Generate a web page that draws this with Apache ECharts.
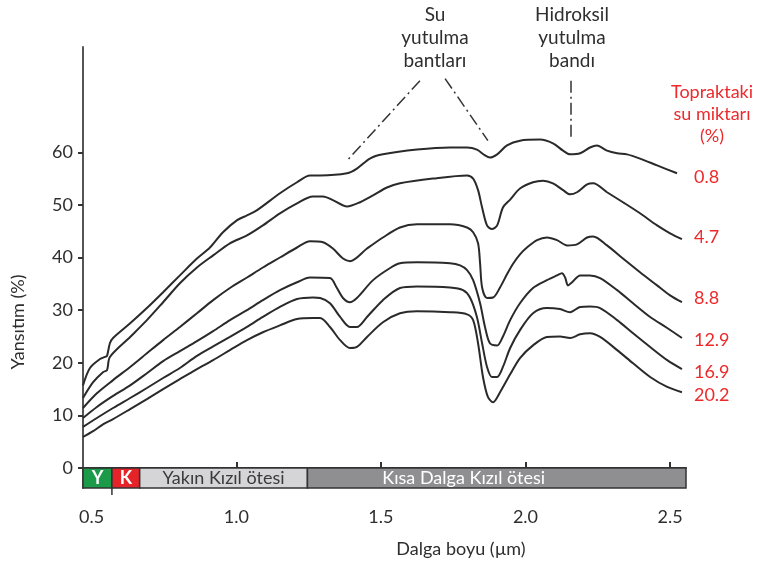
<!DOCTYPE html>
<html><head><meta charset="utf-8">
<script src="https://cdn.jsdelivr.net/npm/echarts@6/dist/echarts.min.js"></script>
<style>html,body{margin:0;padding:0;background:#fff}#c{width:762px;height:570px}</style>
</head><body><div id="c"></div>
<script>
// soil moisture (%) of each curve
const moistureLabels = ['0.8', '4.7', '8.8', '12.9', '16.9', '20.2'];

// [wavelength µm, reflectance %]
const soil08 = [[0.470,15.7],[0.494,19.0],[0.529,20.7],[0.546,21.1],[0.553,21.3],[0.563,23.7],[0.574,24.7],[0.633,27.5],[0.691,30.4],[0.747,33.4],[0.805,36.6],[0.864,39.8],[0.909,41.9],[0.954,44.8],[1.003,47.1],[1.037,48.0],[1.072,49.0],[1.151,52.2],[1.210,54.3],[1.255,55.6],[1.290,55.6],[1.383,56.0],[1.417,56.9],[1.462,58.8],[1.507,59.6],[1.625,60.5],[1.739,60.9],[1.798,60.9],[1.832,60.5],[1.860,59.4],[1.877,59.0],[1.902,59.6],[1.936,61.3],[1.981,62.2],[2.050,62.4],[2.095,61.7],[2.130,60.3],[2.154,59.6],[2.189,59.8],[2.223,60.9],[2.247,61.3],[2.282,60.3],[2.317,59.8],[2.351,59.6],[2.396,58.8],[2.455,57.5],[2.524,56.0]];
const soil47 = [[0.470,13.3],[0.505,16.3],[0.539,18.2],[0.553,18.6],[0.563,21.1],[0.633,24.9],[0.691,28.1],[0.747,31.5],[0.805,35.1],[0.864,38.1],[0.920,40.4],[0.978,42.7],[1.037,44.2],[1.092,46.1],[1.151,48.4],[1.210,50.3],[1.265,51.6],[1.300,51.6],[1.334,50.9],[1.383,49.7],[1.428,50.5],[1.473,51.8],[1.521,53.3],[1.566,54.1],[1.680,55.0],[1.798,55.6],[1.819,55.0],[1.836,52.8],[1.850,49.5],[1.867,46.1],[1.884,45.4],[1.902,46.1],[1.922,49.5],[1.947,51.0],[1.981,53.1],[2.026,54.3],[2.061,54.6],[2.095,54.1],[2.130,52.8],[2.154,52.0],[2.178,52.4],[2.213,53.9],[2.234,54.1],[2.282,52.4],[2.337,50.5],[2.396,48.4],[2.455,46.1],[2.500,44.6],[2.541,43.5]];
const soil88 = [[0.470,11.4],[0.518,14.2],[0.574,16.7],[0.633,19.2],[0.691,21.8],[0.747,24.3],[0.805,26.8],[0.864,29.4],[0.920,31.9],[0.978,34.2],[1.037,36.2],[1.092,38.1],[1.151,40.0],[1.210,41.9],[1.255,43.1],[1.300,42.9],[1.334,41.7],[1.369,39.8],[1.393,39.3],[1.452,41.7],[1.507,43.8],[1.566,45.7],[1.625,46.3],[1.739,46.3],[1.798,45.7],[1.819,44.8],[1.836,42.7],[1.843,38.9],[1.850,34.3],[1.867,32.3],[1.888,32.4],[1.912,34.3],[1.936,36.8],[1.957,38.8],[1.981,40.6],[2.005,41.9],[2.040,43.3],[2.074,43.8],[2.109,43.3],[2.144,42.3],[2.178,42.5],[2.213,43.8],[2.234,44.0],[2.282,42.3],[2.337,39.8],[2.396,37.2],[2.455,34.7],[2.500,32.8],[2.541,31.5]];
const soil129 = [[0.470,9.5],[0.518,11.6],[0.574,13.7],[0.633,15.7],[0.691,18.0],[0.747,20.3],[0.805,22.2],[0.864,24.1],[0.920,26.0],[0.978,28.1],[1.037,30.0],[1.092,31.9],[1.151,33.8],[1.210,35.3],[1.255,36.2],[1.324,36.1],[1.348,34.2],[1.369,32.3],[1.393,31.5],[1.417,32.3],[1.473,35.7],[1.532,38.0],[1.566,38.9],[1.625,39.1],[1.739,38.9],[1.774,38.5],[1.798,37.6],[1.819,35.7],[1.843,31.3],[1.860,26.8],[1.877,23.7],[1.902,23.3],[1.922,25.0],[1.947,28.1],[1.981,31.3],[2.026,34.2],[2.074,35.7],[2.109,36.6],[2.126,37.0],[2.137,36.2],[2.147,34.7],[2.161,35.3],[2.189,36.6],[2.223,36.6],[2.258,36.1],[2.317,33.8],[2.372,31.3],[2.431,28.7],[2.490,26.6],[2.541,24.7]];
const soil169 = [[0.470,7.8],[0.518,9.5],[0.574,11.4],[0.633,13.3],[0.691,15.2],[0.747,17.1],[0.805,19.0],[0.864,21.3],[0.920,23.1],[0.978,24.9],[1.037,26.8],[1.092,28.7],[1.151,30.6],[1.210,32.1],[1.265,32.4],[1.290,32.3],[1.324,31.3],[1.359,28.7],[1.393,26.8],[1.417,26.8],[1.452,28.7],[1.507,31.9],[1.566,34.2],[1.625,34.5],[1.739,34.3],[1.784,33.8],[1.808,32.4],[1.832,28.7],[1.850,23.7],[1.867,19.2],[1.884,17.3],[1.902,17.3],[1.922,19.2],[1.947,22.8],[1.981,26.2],[2.026,29.4],[2.074,30.4],[2.119,30.2],[2.154,29.6],[2.189,30.6],[2.223,30.7],[2.258,30.4],[2.317,28.1],[2.372,25.6],[2.431,23.0],[2.490,20.5],[2.541,18.8]];
const soil202 = [[0.470,5.9],[0.505,7.0],[0.539,8.3],[0.574,9.3],[0.633,11.2],[0.691,13.1],[0.747,15.0],[0.805,16.9],[0.864,18.8],[0.920,20.5],[0.978,22.4],[1.037,24.3],[1.092,25.8],[1.151,27.1],[1.210,28.3],[1.265,28.5],[1.290,28.5],[1.324,26.8],[1.359,24.3],[1.393,22.8],[1.417,23.0],[1.452,24.9],[1.507,27.7],[1.566,29.4],[1.625,29.8],[1.739,29.6],[1.798,29.2],[1.819,28.1],[1.836,23.7],[1.853,17.3],[1.870,13.5],[1.888,12.5],[1.912,14.4],[1.947,17.8],[1.981,20.9],[2.026,23.3],[2.074,24.9],[2.119,25.0],[2.154,24.7],[2.189,25.4],[2.223,25.6],[2.258,24.9],[2.317,22.4],[2.372,19.9],[2.431,17.3],[2.490,15.4],[2.541,14.4]];

// axis ticks
const xTickLabels = [0.5, 1.0, 1.5, 2.0, 2.5];
const xTickMarks = [1.0, 1.5, 2.0, 2.5];
const yTickLabels = [0, 10, 20, 30, 40, 50, 60];

// spectral regions [from, to] µm
const bandNames = ['Y', 'K', 'Yakın Kızıl ötesi', 'Kısa Dalga Kızıl ötesi'];
const bandFrom = [0.47, 0.57, 0.666, 1.246];
const bandTo = [0.57, 0.666, 1.246, 2.555];

// absorption band pointers [[x1,y1],[x2,y2]]
const waterPointers = [[[1.635, 73.6], [1.383, 58.4]], [[1.722, 74.0], [1.870, 62.2]]];
const hydroxylPointer = [[2.157, 73.6], [2.157, 62.2]];

const FONT = 'Lato, "Open Sans", sans-serif';
const RED = '#ec2a2c';
const INK = '#2e2e2e';
const bandFill = ['#1b9a4a', '#e52328', '#d5d5d7', '#8f8f91'];
const bandText = ['#fff', '#fff', '#3a3a3a', '#fff'];
const bandOffset = [[0, 0], [0, 0], [0, 0], [-33, 0]];
const endOffsets = [[9, 4], [4, -2], [4, -4], [4, 2], [4, 3], [4, 3]];

const chart = echarts.init(document.getElementById('c'), null, { renderer: 'canvas' });

const curves = [soil08, soil47, soil88, soil129, soil169, soil202];
const Y_MIN = -3.8;

const series = curves.map((d, i) => ({
  name: moistureLabels[i],
  type: 'line',
  data: d,
  smooth: 0.3,
  symbol: 'none',
  z: 3,
  lineStyle: { color: '#2a2a2a', width: 2 },
  endLabel: {
    show: true,
    formatter: moistureLabels[i],
    color: RED,
    fontSize: 18,
    fontFamily: FONT,
    offset: endOffsets[i]
  }
}));

series[0].markArea = {
  silent: true,
  z: 1,
  itemStyle: { borderColor: '#333', borderWidth: 1.5, opacity: 1 },
  label: { show: true, position: 'inside', fontSize: 18, fontFamily: FONT },
  data: bandNames.map((n, i) => [
    { name: n, xAxis: bandFrom[i], yAxis: Y_MIN,
      itemStyle: { color: bandFill[i] },
      label: { color: bandText[i], offset: bandOffset[i], fontWeight: i < 2 ? 'bold' : 'normal' } },
    { xAxis: bandTo[i], yAxis: 0 }
  ])
};

series[0].markLine = {
  silent: true,
  symbol: ['none', 'none'],
  animation: false,
  label: { show: false },
  lineStyle: { type: [12, 4, 2, 4], color: '#333', width: 1.5 },
  data: waterPointers.concat([hydroxylPointer]).map(p => [{ coord: p[0] }, { coord: p[1] }])
};

function texts() {
  return [
    { type: 'text', x: 435, y: 3, style: { text: 'Su\nyutulma\nbantları', align: 'center', verticalAlign: 'top', lineHeight: 23, fill: INK, font: '19px ' + FONT } },
    { type: 'text', x: 572, y: 3, style: { text: 'Hidroksil\nyutulma\nbandı', align: 'center', verticalAlign: 'top', lineHeight: 23, fill: INK, font: '19px ' + FONT } },
    { type: 'text', x: 712, y: 81, style: { text: 'Topraktaki\nsu miktarı\n(%)', align: 'center', verticalAlign: 'top', lineHeight: 22, fill: RED, font: '18px ' + FONT } },
    { type: 'text', x: 18, y: 322, rotation: Math.PI / 2, style: { text: 'Yansıtım (%)', align: 'center', verticalAlign: 'middle', fill: INK, font: '18px ' + FONT } },
    { type: 'text', x: 461, y: 549, style: { text: 'Dalga boyu (µm)', align: 'center', verticalAlign: 'middle', fill: INK, font: '18px ' + FONT } }
  ];
}

chart.setOption({
  animation: false,
  backgroundColor: '#fff',
  grid: { left: 83, right: 76, top: 47, bottom: 82, containLabel: false, outerBoundsMode: 'none' },
  xAxis: {
    type: 'value', min: 0.47, max: 2.555,
    axisLine: { onZero: true, lineStyle: { color: '#333', width: 2 } },
    axisTick: { show: true, inside: true, length: 6, customValues: xTickMarks, lineStyle: { color: '#333', width: 2 } },
    axisLabel: { customValues: xTickLabels, formatter: v => v.toFixed(1), margin: 20, fontSize: 18, color: INK, fontFamily: FONT },
    splitLine: { show: false }
  },
  yAxis: {
    type: 'value', min: Y_MIN, max: 80,
    axisLine: { show: true, lineStyle: { color: '#555', width: 2 } },
    axisTick: { show: true, length: 5, customValues: yTickLabels, lineStyle: { color: '#333', width: 2 } },
    axisLabel: { customValues: yTickLabels, margin: 10, fontSize: 18, color: INK, fontFamily: FONT },
    splitLine: { show: false }
  },
  graphic: texts(),
  series: series
});

// small divider tick below the band between Y and K
const p = chart.convertToPixel({ gridIndex: 0 }, [bandTo[0], Y_MIN]);
chart.setOption({
  graphic: texts().concat([
    { type: 'line', shape: { x1: p[0], y1: p[1], x2: p[0], y2: p[1] + 7 }, style: { stroke: '#333', lineWidth: 1.5 } }
  ])
}, { replaceMerge: ['graphic'] });
</script>
</body></html>
